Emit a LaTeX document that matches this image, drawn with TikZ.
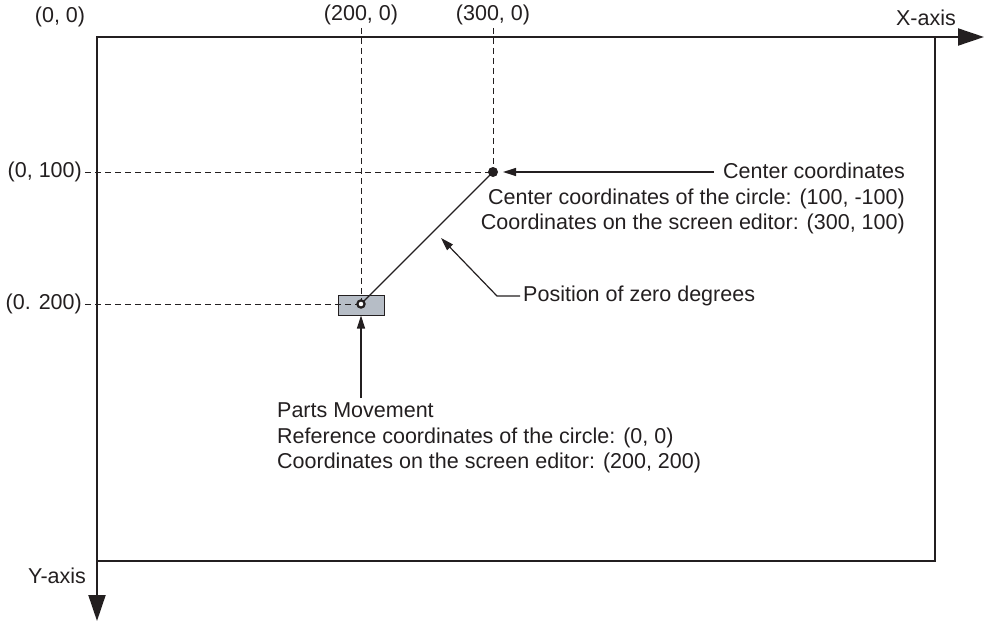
\documentclass[tikz,border=0pt]{standalone}
\usepackage{fontspec}
\setmainfont{Liberation Sans}
\usetikzlibrary{arrows.meta}
\definecolor{ink}{HTML}{231F20}
\definecolor{boxgray}{HTML}{B6BDC6}
\begin{document}
\begin{tikzpicture}[x=1pt,y=-1pt,
  lbl/.style={inner sep=0pt, text=ink, font=\fontsize{21.5}{25.3}\selectfont},
  frame/.style={draw=ink, line width=2pt},
  dashline/.style={draw=ink, line width=1pt, dash pattern=on 6pt off 4pt},
  leader/.style={draw=ink, line width=1.2pt},
  smallarrow/.style={-{Triangle[length=13pt,width=8pt]}},
  bigarrow/.style={-{Triangle[length=26pt,width=17pt]}}]
\useasboundingbox (0,0) rectangle (985,626);
% frame corners
\coordinate (tl) at (97,37);
\coordinate (br) at (935,561);
\coordinate (tr) at (935,37);
\coordinate (bl) at (97,561);
\coordinate (xend) at (984,37);
\coordinate (yend) at (97,621);
\draw[frame] (tl) rectangle (br);
\draw[frame, bigarrow] (tr) -- (xend);
\draw[frame, bigarrow] (bl) -- (yend);
% points
\coordinate (P) at (361,304);
\coordinate (C) at (493,172);
\node[draw=ink, fill=boxgray, line width=1pt, minimum width=46pt, minimum height=20pt, inner sep=0pt] (box) at (361,305) {};
% dashed guides
\coordinate (v1top) at (361,28);
\coordinate (v2top) at (493,28);
\coordinate (h1left) at (85,172);
\coordinate (h2left) at (85,304);
\draw[dashline] (v1top) -- (P);
\draw[dashline] (v2top) -- (C);
\draw[dashline] (h1left) -- (C);
\draw[dashline] (h2left) -- (P);
% radius line
\draw[leader] (P) -- (C);
\fill[ink] (C) circle (5pt);
\draw[ink, line width=2.2pt, fill=white] (P) circle (3.6pt);
% labels
\node[lbl] (l00) at (60,17) {(0, 0)};
\node[lbl] (l200) at (361,15) {(200, 0)};
\node[lbl] (l300) at (493,15) {(300, 0)};
\node[lbl] (xl) at (926,18) {X-axis};
\node[lbl] (yl) at (57,576) {Y-axis};
\node[lbl, anchor=east] (l100) at (82,172) {(0, 100)};
\node[lbl, anchor=east] (l2) at (82,304) {(0. 200)};
% center coordinates block
\node[lbl, anchor=north east, align=right] (ctext) at (905,163)
  {Center coordinates\\Center coordinates of the circle: (100, -100)\\Coordinates on the screen editor: (300, 100)};
\coordinate (carrowstart) at (714,172);
\coordinate (carrowtip) at (503,172);
\draw[leader, smallarrow] (carrowstart) -- (carrowtip);
% zero degrees
\node[lbl, anchor=west] (zd) at (523,296) {Position of zero degrees};
\coordinate (zdcorner) at (497,296);
\coordinate (zdtip) at (441,238);
\draw[leader, smallarrow] (zd.west) ++(-3,0) -- (zdcorner) -- (zdtip);
% parts movement
\node[lbl, anchor=north west, align=left] (ptext) at (277,403)
  {Parts Movement\\Reference coordinates of the circle: (0, 0)\\Coordinates on the screen editor: (200, 200)};
\coordinate (parrowstart) at (361,398);
\draw[leader, smallarrow] (parrowstart) -- (box.south);
\end{tikzpicture}
\end{document}
